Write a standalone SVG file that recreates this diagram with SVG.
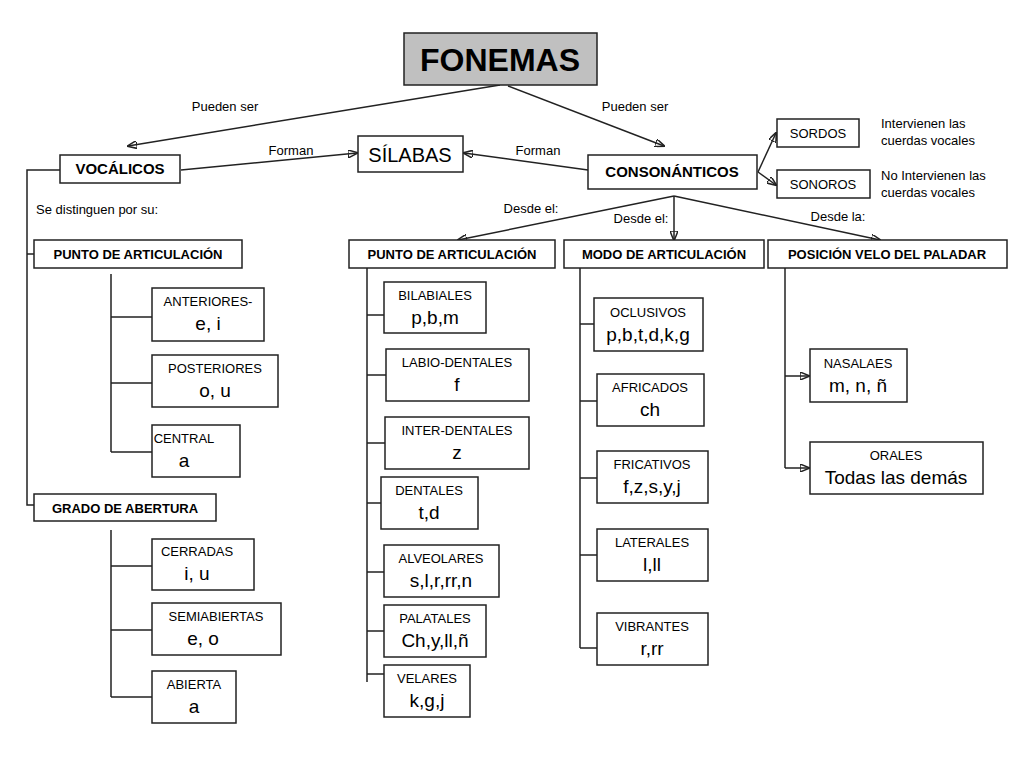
<svg xmlns="http://www.w3.org/2000/svg" width="1024" height="768" viewBox="0 0 1024 768">
<style>
rect{fill:#fff;stroke:#222;stroke-width:1.5}
text{font-family:"Liberation Sans",Arial,sans-serif;fill:#000;text-anchor:middle}
.s{font-size:13px}.b{font-size:13px;font-weight:bold}.l{font-size:13px;text-anchor:start}
.v{font-size:19px}
line,path{stroke:#222;stroke-width:1.5;fill:none}
</style>
<defs><marker id="a" markerWidth="10" markerHeight="8" refX="9" refY="4" orient="auto" markerUnits="userSpaceOnUse"><path d="M0,0L10,4L0,8Z" fill="#000" stroke="none"/></marker></defs>
<g id="connectors">
<line x1="500" y1="85" x2="128" y2="146" marker-end="url(#a)"/>
<line x1="508" y1="86" x2="664" y2="146" marker-end="url(#a)"/>
<line x1="181" y1="170" x2="357" y2="153" marker-end="url(#a)"/>
<line x1="588" y1="170" x2="464" y2="153" marker-end="url(#a)"/>
<line x1="758" y1="172" x2="776" y2="133" marker-end="url(#a)"/>
<line x1="758" y1="172" x2="776" y2="185" marker-end="url(#a)"/>
<line x1="674" y1="196" x2="458" y2="240" marker-end="url(#a)"/>
<line x1="674" y1="196" x2="674" y2="240" marker-end="url(#a)"/>
<line x1="674" y1="196" x2="880" y2="240" marker-end="url(#a)"/>
<path d="M60,170H27V505H34M27,254H34"/>
<path d="M111,274V452M111,317H152M111,383H152M111,452H152"/>
<path d="M111,530V697M111,566H152M111,630H152M111,697H152"/>
<path d="M367,268V682M367,315H384M367,375H386M367,443H385M367,503H381M367,572H384M367,631H384M367,674H384"/>
<path d="M580,268V648M580,324H594M580,401H597M580,478H597M580,555H597M580,648H597"/>
<path d="M785,268V468"/>
<line x1="785" y1="376" x2="809" y2="376" marker-end="url(#a)"/>
<line x1="785" y1="468" x2="809" y2="468" marker-end="url(#a)"/>
</g>
<g id="labels">
<text class="s" x="225" y="111">Pueden ser</text>
<text class="s" x="635" y="111">Pueden ser</text>
<text class="s" x="291" y="155">Forman</text>
<text class="s" x="538" y="155">Forman</text>
<text class="l" x="36" y="214">Se distinguen por su:</text>
<text class="s" x="531" y="213">Desde el:</text>
<text class="s" x="641" y="223">Desde el:</text>
<text class="s" x="838" y="221">Desde la:</text>
<text class="l" x="881" y="128">Intervienen las</text>
<text class="l" x="881" y="145">cuerdas vocales</text>
<text class="l" x="881" y="180">No Intervienen las</text>
<text class="l" x="881" y="197">cuerdas vocales</text>
</g>
<g id="fonemas"><rect x="404" y="33" width="193" height="52" style="fill:#c0c0c0"/><text x="500" y="71" style="font-size:32px;font-weight:bold">FONEMAS</text></g>
<g id="silabas"><rect x="358" y="136" width="105" height="36"/><text x="410" y="162" style="font-size:20px">SÍLABAS</text></g>
<g id="vocalicos"><rect x="60" y="155" width="120" height="28"/><text class="b" x="120" y="174" style="font-size:15px">VOCÁLICOS</text></g>
<g id="consonanticos"><rect x="588" y="155" width="169" height="34"/><text class="b" x="672" y="177" style="font-size:15px">CONSONÁNTICOS</text></g>
<g id="sordos"><rect x="777" y="119" width="82" height="28"/><text class="s" x="818" y="138">SORDOS</text></g>
<g id="sonoros"><rect x="777" y="170" width="93" height="28"/><text class="s" x="823" y="189">SONOROS</text></g>
<g id="v-punto"><rect x="34" y="240" width="208" height="28"/><text class="b" x="138" y="259">PUNTO DE ARTICULACIÓN</text></g>
<g id="v-grado"><rect x="34" y="494" width="182" height="27"/><text class="b" x="125" y="513">GRADO DE ABERTURA</text></g>
<g id="c-punto"><rect x="349" y="240" width="206" height="28"/><text class="b" x="452" y="259">PUNTO DE ARTICULACIÓN</text></g>
<g id="c-modo"><rect x="564" y="240" width="200" height="28"/><text class="b" x="664" y="259">MODO DE ARTICULACIÓN</text></g>
<g id="c-posicion"><rect x="768" y="240" width="239" height="28"/><text class="b" x="887" y="259">POSICIÓN VELO DEL PALADAR</text></g>
<g id="anteriores"><rect x="152" y="288" width="112" height="53"/><text class="s" x="208" y="306">ANTERIORES-</text><text class="v" x="208" y="330">e, i</text></g>
<g id="posteriores"><rect x="152" y="355" width="126" height="52"/><text class="s" x="215" y="373">POSTERIORES</text><text class="v" x="215" y="397">o, u</text></g>
<g id="central"><rect x="152" y="425" width="88" height="52"/><text class="s" x="184" y="443">CENTRAL</text><text class="v" x="184" y="467">a</text></g>
<g id="cerradas"><rect x="152" y="539" width="102" height="51"/><text class="s" x="197" y="556">CERRADAS</text><text class="v" x="197" y="580">i, u</text></g>
<g id="semiabiertas"><rect x="152" y="603" width="129" height="52"/><text class="s" x="216" y="621">SEMIABIERTAS</text><text class="v" x="203" y="645">e, o</text></g>
<g id="abierta"><rect x="152" y="671" width="84" height="52"/><text class="s" x="194" y="689">ABIERTA</text><text class="v" x="194" y="713">a</text></g>
<g id="bilabiales"><rect x="384" y="282" width="102" height="51"/><text class="s" x="435" y="300">BILABIALES</text><text class="v" x="435" y="324">p,b,m</text></g>
<g id="labio"><rect x="386" y="349" width="143" height="52"/><text class="s" x="457" y="367">LABIO-DENTALES</text><text class="v" x="457" y="391">f</text></g>
<g id="inter"><rect x="385" y="417" width="144" height="52"/><text class="s" x="457" y="435">INTER-DENTALES</text><text class="v" x="457" y="459">z</text></g>
<g id="dentales"><rect x="381" y="477" width="97" height="52"/><text class="s" x="429" y="495">DENTALES</text><text class="v" x="429" y="519">t,d</text></g>
<g id="alveolares"><rect x="384" y="545" width="115" height="52"/><text class="s" x="441" y="563">ALVEOLARES</text><text class="v" x="441" y="587">s,l,r,rr,n</text></g>
<g id="palatales"><rect x="384" y="605" width="102" height="52"/><text class="s" x="435" y="623">PALATALES</text><text class="v" x="435" y="647">Ch,y,ll,ñ</text></g>
<g id="velares"><rect x="384" y="665" width="86" height="52"/><text class="s" x="427" y="683">VELARES</text><text class="v" x="427" y="707">k,g,j</text></g>
<g id="oclusivos"><rect x="594" y="298" width="109" height="53"/><text class="s" x="648" y="317">OCLUSIVOS</text><text class="v" x="648" y="341">p,b,t,d,k,g</text></g>
<g id="africados"><rect x="597" y="374" width="107" height="52"/><text class="s" x="650" y="392">AFRICADOS</text><text class="v" x="650" y="416">ch</text></g>
<g id="fricativos"><rect x="597" y="451" width="111" height="52"/><text class="s" x="652" y="469">FRICATIVOS</text><text class="v" x="652" y="493">f,z,s,y,j</text></g>
<g id="laterales"><rect x="597" y="529" width="111" height="52"/><text class="s" x="652" y="547">LATERALES</text><text class="v" x="652" y="571">l,ll</text></g>
<g id="vibrantes"><rect x="597" y="613" width="111" height="52"/><text class="s" x="652" y="631">VIBRANTES</text><text class="v" x="652" y="655">r,rr</text></g>
<g id="nasales"><rect x="810" y="349" width="97" height="53"/><text class="s" x="858" y="368">NASALAES</text><text class="v" x="858" y="392">m, n, ñ</text></g>
<g id="orales"><rect x="810" y="442" width="173" height="52"/><text class="s" x="896" y="460">ORALES</text><text class="v" x="896" y="484">Todas las demás</text></g>
</svg>
